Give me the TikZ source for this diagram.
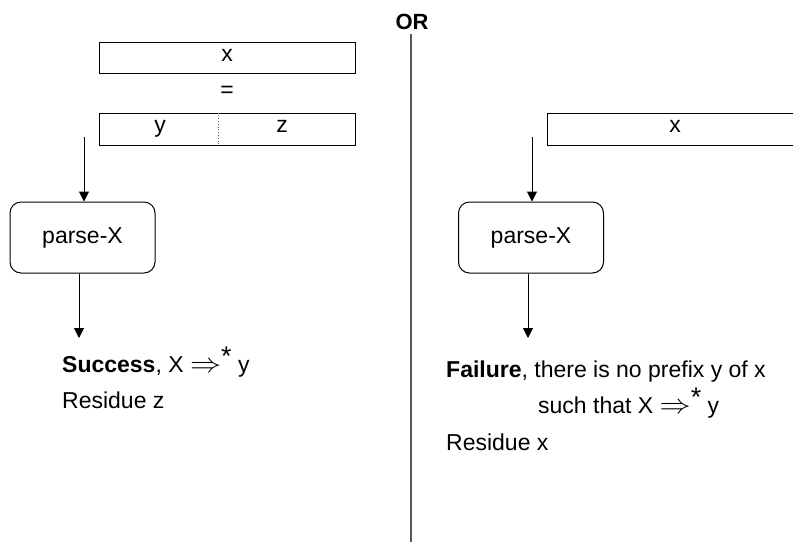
\documentclass[tikz,border=0pt]{standalone}
\usepackage{fontspec}
\setmainfont{Liberation Sans}
\usetikzlibrary{arrows.meta}
\newcommand{\derivs}{\scalebox{1.25}[1.1]{$\Rightarrow$}\raisebox{0.3em}{\fontsize{27}{27}\selectfont *}}
\begin{document}
\begin{tikzpicture}[x=1pt,y=-1pt,
  every node/.style={font=\fontsize{23}{27}\selectfont, inner sep=0pt},
  strip/.style={draw, line width=1pt, minimum width=256pt, minimum height=31pt},
  procbox/.style={draw, line width=1pt, rounded corners=11pt, minimum width=145pt, minimum height=71pt},
  flow/.style={line width=1pt, -{Triangle[width=10pt,length=10pt]}},
  txt/.style={anchor=base west},
  lbl/.style={anchor=base}]
\useasboundingbox (0,0) rectangle (793,542);
\clip (0,0) rectangle (793,542);
% separator
\node[font=\fontsize{22}{26}\selectfont\bfseries] (or) at (412,22) {OR};
\coordinate (sepend) at (411,542);
\draw[line width=1.6pt, color=black!65] (or.south -| sepend) ++(0,4) -- (sepend);
% left column
\node[strip] (topx) at (227,57.5) {};
\node[lbl] (xlab) at (227,61) {x};
\node (eq) at (227,92) {=};
\node[strip, minimum height=32pt] (yz) at (227,129) {};
\node[lbl] (ylab) at (160,132) {y};
\node[lbl] (zlab) at (282,132) {z};
\draw[dotted, line width=0.8pt, black!60] (yz.north -| 218,0) -- (yz.south -| 218,0);
\node[procbox] (pl) at (82.5,237.5) {parse-X};
\coordinate (la) at (84,137);
\draw[flow] (la) -- (la |- pl.north);
\coordinate (lb) at (79,338);
\draw[flow] (pl.south -| lb) -- (lb);
\node[txt] (succ) at (62,372) {\textbf{Success}, X \derivs\ y};
\node[txt] (resz) at (62,408) {Residue z};
% right column
\node[strip, minimum height=32pt] (rx) at (675,129) {};
\node[lbl] (rxlab) at (675,132) {x};
\node[procbox] (pr) at (531,237.5) {parse-X};
\coordinate (ra) at (532,137);
\draw[flow] (ra) -- (ra |- pr.north);
\coordinate (rb) at (528,338);
\draw[flow] (pr.south -| rb) -- (rb);
\node[txt] (fail) at (446,377) {\textbf{Failure}, there is no prefix y of x};
\node[txt] (such) at (538,413) {such that X \derivs\ y};
\node[txt] (resx) at (446,450) {Residue x};
\end{tikzpicture}
\end{document}
